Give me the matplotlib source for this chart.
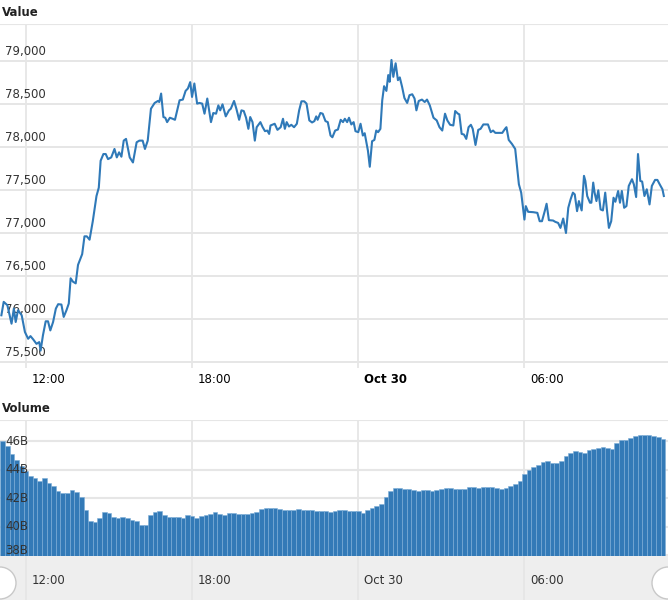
import numpy as np
import matplotlib
matplotlib.use("Agg")
import matplotlib.pyplot as plt
import matplotlib.transforms as mtrans
from matplotlib.patches import Ellipse

# price line: minutes after 12:00 (Oct 29) and value
price_min = [-53, -48, -40, -31, -26, -22, -17, -9, -2, 5, 10, 16, 23, 29, 32, 37, 43, 48, 53, 59,
             65, 70, 77, 82, 88, 93, 97, 102, 108, 113, 122, 127, 132, 138, 145, 153, 158, 162, 168, 173,
             178, 185, 192, 197, 202, 207, 212, 217, 225, 232, 240, 246, 253, 258, 264, 271, 279, 286, 289, 293,
             298, 302, 306, 312, 318, 323, 333, 340, 346, 351, 356, 360, 365, 371, 376, 382, 387, 393, 401, 406,
             412, 417, 421, 426, 433, 440, 444, 451, 456, 462, 467, 472, 477, 482, 486, 491, 496, 500, 508, 513,
             518, 523, 527, 530, 539, 545, 552, 557, 561, 565, 570, 575, 581, 587, 592, 597, 603, 608, 614, 620,
             625, 629, 632, 638, 643, 649, 654, 660, 664, 670, 676, 682, 687, 691, 696, 700, 705, 710, 714, 720,
             725, 730, 734, 737, 741, 745, 750, 755, 759, 763, 768, 772, 776, 781, 785, 788, 792, 796, 801, 806,
             810, 815, 820, 826, 831, 837, 842, 846, 851, 858, 864, 869, 875, 883, 890, 896, 902, 908, 913, 919,
             926, 930, 936, 939, 944, 949, 954, 959, 964, 968, 974, 980, 985, 991, 1001, 1007, 1012, 1017, 1032, 1038,
             1041, 1046, 1053, 1060, 1065, 1068, 1073, 1076, 1080, 1083, 1088, 1099, 1108, 1113, 1118, 1124, 1128, 1133, 1142, 1147,
             1153, 1158, 1164, 1170, 1175, 1180, 1185, 1189, 1194, 1198, 1204, 1209, 1212, 1216, 1222, 1225, 1229, 1232, 1236, 1240,
             1245, 1250, 1255, 1259, 1263, 1268, 1273, 1277, 1283, 1287, 1291, 1296, 1301, 1306, 1313, 1317, 1322, 1326, 1331, 1335,
             1340, 1345, 1351, 1356, 1363, 1368, 1373, 1379, 1382]
price_val = [76043, 76199, 76160, 75945, 76121, 75965, 76102, 76043, 75848, 75770, 75801, 75762, 75711, 75731, 75633, 75809, 75973, 75973, 75867, 75965,
             76121, 76172, 76168, 76024, 76102, 76180, 76473, 76434, 76414, 76629, 76754, 76961, 76961, 76922, 77137, 77430, 77527, 77840, 77918, 77918,
             77859, 77879, 77977, 77879, 77938, 77887, 78074, 78094, 77879, 77820, 78055, 78074, 78074, 77977, 78074, 78445, 78512, 78535, 78523, 78621,
             78348, 78340, 78289, 78340, 78328, 78316, 78543, 78551, 78652, 78680, 78754, 78582, 78738, 78504, 78512, 78504, 78387, 78563, 78289, 78395,
             78387, 78484, 78426, 78496, 78356, 78426, 78445, 78535, 78445, 78316, 78426, 78418, 78340, 78211, 78348, 78289, 78074, 78230, 78289, 78230,
             78184, 78191, 78152, 78250, 78270, 78199, 78230, 78328, 78211, 78289, 78238, 78258, 78230, 78270, 78426, 78531, 78531, 78504, 78309, 78285,
             78301, 78356, 78316, 78395, 78387, 78301, 78289, 78133, 78113, 78191, 78203, 78316, 78289, 78328, 78289, 78340, 78262, 78289, 78184, 78172,
             78270, 78133, 78160, 78074, 77957, 77770, 78067, 78082, 78191, 78172, 78211, 78543, 78707, 78652, 78836, 78758, 79012, 78816, 78973, 78777,
             78809, 78699, 78570, 78512, 78602, 78613, 78563, 78426, 78535, 78551, 78523, 78551, 78484, 78340, 78309, 78230, 78191, 78387, 78309, 78258,
             78250, 78418, 78387, 78379, 78152, 78145, 78094, 78230, 78258, 78211, 78023, 78199, 78211, 78262, 78262, 78172, 78191, 78164, 78164, 78211,
             78230, 78082, 78035, 77977, 77723, 77566, 77469, 77332, 77156, 77312, 77246, 77242, 77234, 77137, 77137, 77254, 77340, 77149, 77145, 77129,
             77117, 77059, 77168, 77000, 77293, 77391, 77469, 77449, 77254, 77371, 77262, 77664, 77605, 77430, 77352, 77352, 77586, 77469, 77371, 77496,
             77274, 77262, 77469, 77254, 77059, 77137, 77410, 77363, 77488, 77352, 77488, 77293, 77313, 77547, 77625, 77566, 77418, 77918, 77605, 77598,
             77430, 77508, 77332, 77547, 77617, 77617, 77566, 77508, 77430]

# volume bars every 10 minutes starting at 11:10, in billions
vol_start = -50
vol_step = 10
vol_val = [46.0, 45.7, 45.1, 44.7, 44.3, 43.9, 43.6, 43.4, 43.2, 43.4, 43.1, 42.9, 42.5, 42.4, 42.4, 42.6, 42.45, 42.1, 41.2, 40.4,
           40.35, 40.6, 41.05, 41.0, 40.7, 40.65, 40.7, 40.65, 40.5, 40.4, 40.15, 40.1, 40.8, 41.05, 41.1, 40.8, 40.7, 40.7, 40.7, 40.65,
           40.85, 40.75, 40.6, 40.75, 40.85, 40.9, 41.05, 40.9, 40.8, 41.0, 40.95, 40.93, 40.9, 40.88, 40.95, 41.05, 41.23, 41.3, 41.35, 41.33,
           41.25, 41.2, 41.19, 41.2, 41.23, 41.2, 41.19, 41.15, 41.12, 41.12, 41.1, 41.05, 41.1, 41.19, 41.15, 41.12, 41.12, 41.1, 40.95, 41.15,
           41.3, 41.45, 41.6, 42.1, 42.5, 42.7, 42.7, 42.63, 42.63, 42.55, 42.5, 42.55, 42.55, 42.5, 42.55, 42.63, 42.7, 42.74, 42.67, 42.67,
           42.67, 42.8, 42.77, 42.74, 42.8, 42.81, 42.81, 42.75, 42.67, 42.75, 42.85, 42.98, 43.25, 43.7, 44.0, 44.2, 44.35, 44.53, 44.65, 44.5,
           44.5, 44.65, 44.95, 45.2, 45.3, 45.28, 45.2, 45.4, 45.48, 45.51, 45.58, 45.5, 45.45, 45.9, 46.07, 46.1, 46.25, 46.4, 46.47, 46.45,
           46.44, 46.4, 46.32, 46.15]

x_ticks = [0, 360, 720, 1080]
x_labels = ["12:00", "18:00", "Oct 30", "06:00"]
price_ticks = [75500, 76000, 76500, 77000, 77500, 78000, 78500, 79000]
vol_ticks = [38, 40, 42, 44, 46]

W, H = 668, 612
fig = plt.figure(figsize=(W / 100, H / 100), dpi=100)
grid_c = "#e6e6e6"
line_c = "#2f79b8"
txt_c = "#333333"
font = 8.5
xlim = (-56, 1391)

def frac(x0, y0, x1, y1):
    return [x0 / W, 1 - y1 / H, (x1 - x0) / W, (y1 - y0) / H]

def style(ax):
    for s in ax.spines.values():
        s.set_visible(False)
    ax.set_xticks([])
    ax.set_yticks([])
    ax.set_xlim(*xlim)
    for t in x_ticks:
        ax.axvline(t, color=grid_c, lw=1.3, zorder=0)

# price panel
ax1 = fig.add_axes(frac(0, 24, W, 368))
style(ax1)
ax1.set_ylim(75430, 79430)
ax1.axhline(79430, color=grid_c, lw=1.5, zorder=0)
tr = mtrans.blended_transform_factory(ax1.transAxes, ax1.transData)
for v in price_ticks:
    ax1.axhline(v, color=grid_c, lw=1.4, zorder=0)
    ax1.text(0.008, v + 30, f"{v:,}", transform=tr, ha="left", va="bottom",
             fontsize=font, color=txt_c, zorder=1)
ax1.plot(price_min, price_val, color=line_c, lw=1.5, zorder=3)
for t, lab in zip(x_ticks, x_labels):
    ax1.text(t + 12, -0.015, lab, transform=mtrans.blended_transform_factory(ax1.transData, ax1.transAxes),
             ha="left", va="top", fontsize=font, color="#000000",
             fontweight="bold" if lab.startswith("Oct") else "normal")
fig.text(2 / W, 1 - 12 / H, "Value", fontsize=font, fontweight="bold", va="center", color="#222222")

# volume panel
ax2 = fig.add_axes(frac(0, 420, W, 556))
style(ax2)
ax2.set_ylim(37.95, 47.5)
ax2.axhline(47.5, color=grid_c, lw=1.5, zorder=0)
vol_x = vol_start + vol_step * np.arange(len(vol_val))
ax2.bar(vol_x, np.array(vol_val) - 37.95, bottom=37.95, width=vol_step, color="#337ab7",
        edgecolor="#7eaed8", linewidth=0.4, zorder=2)
tr2 = mtrans.blended_transform_factory(ax2.transAxes, ax2.transData)
for v in vol_ticks:
    ax2.axhline(v, color=grid_c, lw=1.5, zorder=1)
    ax2.text(0.008, v + (0.35 if v == 38 else 0), f"{v}B", transform=tr2, ha="left", va="center",
             fontsize=font, color=txt_c, zorder=4)
fig.text(2 / W, 1 - 408 / H, "Volume", fontsize=font, fontweight="bold", va="center", color="#222222")

# navigator strip
ax3 = fig.add_axes(frac(0, 556, W, 600))
style(ax3)
ax3.set_facecolor("#eeeeee")
ax3.set_ylim(0, 1)
for t, lab in zip(x_ticks, x_labels):
    ax3.text(t + 12, 0.45, lab, ha="left", va="center", fontsize=font, color=txt_c)

# scrollbar handles, drawn in pixel units
for cx in (0, W):
    fig.patches.append(Ellipse((cx, H - 583), 32, 32, transform=None, facecolor="white",
                               edgecolor="#c8c8c8", lw=1.0, zorder=5))

fig.savefig("out.png", dpi=100)
